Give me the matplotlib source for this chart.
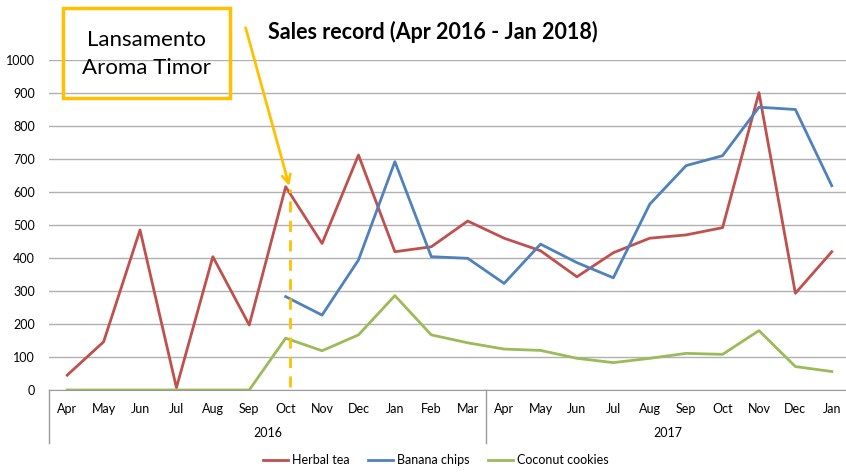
import numpy as np
import matplotlib.pyplot as plt
from matplotlib.patches import Rectangle
import matplotlib.transforms as mtransforms

months = ['Apr', 'May', 'Jun', 'Jul', 'Aug', 'Sep', 'Oct', 'Nov', 'Dec', 'Jan', 'Feb', 'Mar',
          'Apr', 'May', 'Jun', 'Jul', 'Aug', 'Sep', 'Oct', 'Nov', 'Dec', 'Jan']
years = ['2016', '2017']
year_spans = [(0, 11), (12, 21)]

herbal_tea = [45, 146, 485, 7, 404, 197, 616, 444, 712, 419, 434, 512,
              460, 422, 343, 416, 460, 470, 492, 901, 293, 419]
banana_chips = [np.nan] * 6 + [283, 227, 394, 692, 404, 399,
                               323, 442, 386, 340, 563, 680, 710, 857, 850, 619]
coconut_cookies = [0, 0, 0, 0, 0, 0, 157, 119, 167, 286, 167, 143,
                   124, 120, 96, 83, 96, 111, 108, 180, 71, 56]

launch_idx = 6  # Oct 2016
launch_level = 610

plt.rcParams['font.family'] = ['Lato', 'DejaVu Sans']

fig = plt.figure(figsize=(8.46, 4.73), dpi=100)
ax = fig.add_axes([49 / 846, 83 / 473, 801 / 846, 330 / 473])

x = np.arange(len(months))
ax.plot(x, herbal_tea, color='#C0504D', lw=2, label='Herbal tea')
ax.plot(x, banana_chips, color='#4F81BD', lw=2, label='Banana chips')
ax.plot(x, coconut_cookies, color='#9BBB59', lw=2, label='Coconut cookies')

ax.set_xlim(-0.5, len(months) - 0.5)
ax.set_ylim(0, 1000)
ax.set_yticks(range(0, 1001, 100))
ax.grid(axis='y', color='#B0B0B0', lw=1)
ax.set_axisbelow(True)
for s in ['top', 'right', 'left']:
    ax.spines[s].set_visible(False)
ax.spines['bottom'].set_color('#999999')

ax.set_xticks(x)
ax.set_xticklabels(months)
ax.tick_params(axis='x', length=0, pad=9, labelsize=9)
ax.tick_params(axis='y', length=0, pad=10, labelsize=9)

# year level of the category axis
trans = mtransforms.blended_transform_factory(ax.transData, ax.transAxes)
for yr, (a, b) in zip(years, year_spans):
    ax.text((a + b) / 2, -0.13, yr, transform=trans, ha='center', va='center', fontsize=9)
for sep in [-0.5, 11.5, len(months) - 0.5]:
    ax.plot([sep, sep], [0, -0.16], transform=trans, color='#999999', lw=1, clip_on=False)

# launch marker
ax.plot([launch_idx + 0.12, launch_idx + 0.12], [10, launch_level], color='#FFC000',
        lw=2, ls=(0, (4, 3)))
ax.annotate('', xy=(launch_idx + 0.12, launch_level), xytext=(4.88, 1106),
            arrowprops=dict(arrowstyle='->', color='#FFC000', lw=2, mutation_scale=15),
            annotation_clip=False)

fig.patches.append(Rectangle((63 / 846, 375 / 473), 167 / 846, 90 / 473,
                             transform=fig.transFigure, fill=False,
                             edgecolor='#FFC000', lw=2.5))
fig.text(146.5 / 846, 419 / 473, 'Lansamento\nAroma Timor', ha='center', va='center',
         fontsize=16, linespacing=1.5)

fig.text(433 / 846, 441 / 473, 'Sales record (Apr 2016 - Jan 2018)', ha='center',
         va='center', fontsize=15.5, fontweight='bold')

fig.legend(loc='center', bbox_to_anchor=(436 / 846, 13 / 473), ncol=3, frameon=False,
           fontsize=9, handlelength=2.0, handletextpad=0.3, columnspacing=1.5)

fig.savefig('out.png', dpi=100)
